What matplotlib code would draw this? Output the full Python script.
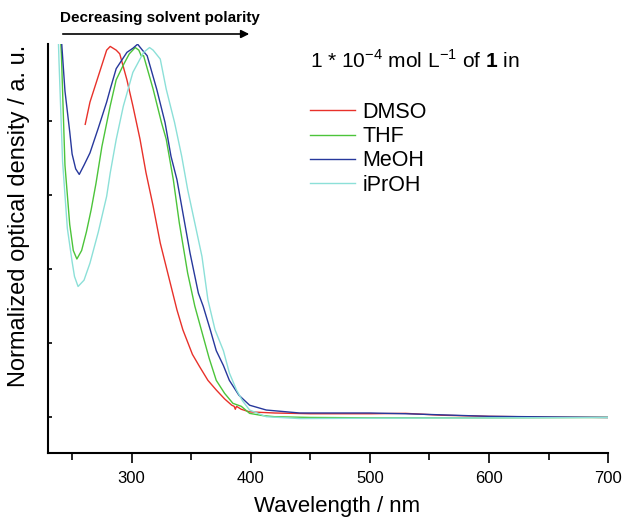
import numpy as np
import matplotlib.pyplot as plt
from matplotlib.patches import FancyArrowPatch

plt.rcParams['font.family'] = ['Liberation Sans', 'DejaVu Sans']
plt.rcParams['mathtext.fontset'] = 'custom'
plt.rcParams['mathtext.rm'] = 'Liberation Sans'
plt.rcParams['mathtext.bf'] = 'Liberation Sans:bold'

# Absorption spectra (wavelength in nm, normalized OD)
dmso_wl = [261, 265, 270, 274, 279, 282, 287, 290, 296, 301, 307, 312, 318, 324, 331,
           338, 343, 351, 357, 364, 371, 378, 384, 386, 387, 388, 392, 399, 420, 450,
           500, 530, 560, 600, 650, 700]
dmso_od = [0.79, 0.85, 0.90, 0.94, 0.99, 1.00, 0.99, 0.98, 0.91, 0.84, 0.75, 0.66, 0.57,
           0.47, 0.38, 0.29, 0.236, 0.17, 0.137, 0.10, 0.074, 0.05, 0.033, 0.030, 0.022,
           0.030, 0.022, 0.015, 0.012, 0.010, 0.010, 0.011, 0.006, 0.003, 0.001, 0.0]

thf_wl = [235, 238, 241, 244, 248, 251, 254, 258, 262, 266, 270, 275, 282, 287, 293,
          298, 303, 306, 308, 310, 318, 325, 329, 335, 340, 347, 353, 359, 365, 371,
          378, 385, 392, 399, 410, 420, 450, 500, 600, 700]
thf_od = [1.40, 1.15, 0.98, 0.68, 0.52, 0.45, 0.427, 0.45, 0.50, 0.56, 0.63, 0.73, 0.84,
          0.91, 0.95, 0.98, 0.997, 0.99, 0.975, 0.975, 0.885, 0.795, 0.75, 0.64, 0.524,
          0.389, 0.30, 0.23, 0.16, 0.10, 0.065, 0.038, 0.030, 0.011, 0.005, 0.002,
          0.0, -0.001, -0.001, 0.0]

meoh_wl = [235, 238, 241, 244, 248, 250, 253, 256, 260, 265, 272, 279, 282, 287, 296,
           301, 305, 309, 313, 321, 328, 333, 338, 342, 349, 356, 360, 366, 371, 377,
           382, 390, 399, 413, 441, 500, 530, 580, 600, 700]
meoh_od = [1.50, 1.25, 1.02, 0.88, 0.77, 0.71, 0.67, 0.655, 0.68, 0.713, 0.78, 0.85,
           0.885, 0.94, 0.984, 0.995, 1.006, 0.99, 0.975, 0.885, 0.795, 0.704, 0.641,
           0.569, 0.443, 0.335, 0.30, 0.236, 0.18, 0.14, 0.10, 0.06, 0.033, 0.02, 0.012,
           0.012, 0.010, 0.005, 0.003, 0.0]

iproh_wl = [235, 237, 239, 242, 246, 250, 252, 255, 260, 265, 272, 279, 282, 287, 293,
            301, 310, 315, 318, 324, 329, 336, 342, 347, 353, 359, 364, 370, 377, 382,
            388, 393, 399, 413, 441, 500, 600, 700]
iproh_od = [1.40, 1.18, 0.96, 0.69, 0.51, 0.42, 0.38, 0.353, 0.37, 0.416, 0.50, 0.596,
            0.659, 0.749, 0.839, 0.93, 0.984, 0.997, 0.99, 0.966, 0.885, 0.795, 0.704,
            0.614, 0.524, 0.434, 0.317, 0.236, 0.18, 0.12, 0.074, 0.045, 0.02, 0.002,
            -0.003, -0.002, -0.001, 0.0]

labels = ['DMSO', 'THF', 'MeOH', 'iPrOH']
colors = ['#e8312a', '#4cc43a', '#27389c', '#8ce0d8']

fig = plt.figure(figsize=(6.27, 5.2), dpi=100)
ax = fig.add_axes([0.077, 0.128, 0.893, 0.787])

series = [(dmso_wl, dmso_od), (thf_wl, thf_od), (meoh_wl, meoh_od), (iproh_wl, iproh_od)]
for (wl, od), lab, col in zip(series, labels, colors):
    ax.plot(wl, od, color=col, lw=1.0, label=lab)

ax.set_xlim(230, 700)
ax.set_ylim(-0.097, 1.006)
ax.set_xticks([300, 400, 500, 600, 700])
ax.set_xticks([250, 350, 450, 550, 650], minor=True)
ax.set_yticks([0, 0.2, 0.4, 0.6, 0.8])
ax.set_yticklabels([])
ax.tick_params(axis='x', direction='out', length=7, width=1.2, labelsize=12, pad=6)
ax.tick_params(axis='x', which='minor', direction='out', length=5, width=1.2)
ax.tick_params(axis='y', direction='in', length=3, width=1.2)
for s in ['top', 'right']:
    ax.spines[s].set_visible(False)
for s in ['left', 'bottom']:
    ax.spines[s].set_linewidth(1.5)

ax.set_xlabel('Wavelength / nm', fontsize=16)
ax.xaxis.set_label_coords(0.515, -0.103)
ax.set_ylabel('Normalized optical density / a. u.', fontsize=17)
ax.yaxis.set_label_coords(-0.033, 0.58)

leg = ax.legend(loc='upper left', bbox_to_anchor=(310 / 627, 1 - 102 / 520),
                bbox_transform=fig.transFigure, frameon=False, fontsize=15.5,
                handlelength=2.1, handletextpad=0.35, labelspacing=0.15,
                borderpad=0, borderaxespad=0)

fig.text(310 / 627, 1 - 60 / 520,
         r'1 * 10$^{\mathregular{-4}}$ mol L$^{\mathregular{-1}}$ of $\mathbf{1}$ in',
         fontsize=15, va='center', ha='left')

fig.text(60 / 627, 1 - 18 / 520, 'Decreasing solvent polarity', fontsize=11,
         fontweight='bold', va='center', ha='left')
arrow = FancyArrowPatch((60 / 627, 1 - 34 / 520), (252 / 627, 1 - 34 / 520),
                        transform=fig.transFigure, arrowstyle='-|>', mutation_scale=12,
                        lw=1.2, color='black')
fig.patches.append(arrow)

fig.savefig('out.png', dpi=100)
